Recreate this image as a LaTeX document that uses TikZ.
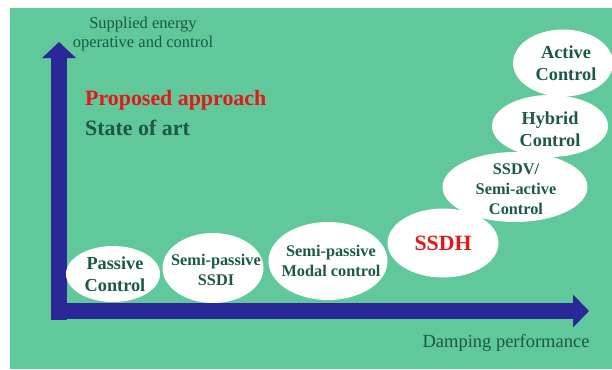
\documentclass[tikz,border=0pt]{standalone}
\usepackage{fontspec}
\setmainfont{Liberation Serif}
\newfontfamily\timesfont{Liberation Serif}
\definecolor{fieldGreen}{RGB}{96, 200, 154}
\definecolor{axisNavy}{RGB}{42, 40, 150}
\definecolor{labelTeal}{RGB}{28, 88, 74}
\definecolor{proposedRed}{RGB}{228, 24, 24}
\usetikzlibrary{arrows.meta,positioning,shapes}

\begin{document}
\begin{tikzpicture}[x=1pt, y=-1pt,
    blob/.style={ellipse, fill=white, inner sep=0pt},
    bigtext/.style={font=\timesfont\fontsize{18.3}{22}\selectfont\bfseries, text=labelTeal, align=center, inner sep=0pt},
    smalltext/.style={font=\timesfont\fontsize{16.3}{20}\selectfont\bfseries, text=labelTeal, align=center, inner sep=0pt},
    axistext/.style={font=\timesfont\fontsize{16.5}{19}\selectfont, text=labelTeal, align=center, inner sep=0pt},
    axisarrow/.style={axisNavy, line width=16pt, line cap=butt}]
    \useasboundingbox (0,0) rectangle (612,369);
    \fill[fieldGreen] (10,8) rectangle (612,369);

    % axes
    \coordinate (origin) at (59,320);
    \coordinate (ytop) at (59,42);
    \coordinate (xstart) at (51,311);
    \coordinate (xend) at (589,311);
    \draw[axisarrow, -{Triangle[length=16pt, width=33pt]}] (origin) -- (ytop);
    \draw[axisarrow, -{Triangle[length=16pt, width=32pt]}] (xstart) -- (xend);

    \node[axistext] (ylabel) at (143,34) {Supplied energy\\operative and control};
    \node[axistext, font=\timesfont\fontsize{18.5}{21}\selectfont] (xlabel) at (506,343) {Damping performance};

    % legend
    \node[bigtext, font=\timesfont\fontsize{21.9}{26}\selectfont\bfseries, text=proposedRed, anchor=base west] (proposed) at (85,105) {Proposed approach};
    \node[bigtext, font=\timesfont\fontsize{21.9}{26}\selectfont\bfseries, anchor=base west] (stateofart) at (85,135) {State of art};

    % ellipses
    \node[blob, minimum width=94pt, minimum height=56pt] (passive) at (113,274) {};
    \node[blob, minimum width=101pt, minimum height=70pt] (ssdi) at (213,268) {};
    \node[blob, minimum width=119pt, minimum height=78pt] (modal) at (328,261) {};
    \node[blob, minimum width=111pt, minimum height=69pt] (ssdh) at (443,243) {};
    \node[blob, minimum width=145pt, minimum height=70pt] (ssdv) at (515,187) {};
    \node[blob, minimum width=116pt, minimum height=62pt] (hybrid) at (550,126) {};
    \node[blob, minimum width=100pt, minimum height=67pt] (active) at (563,63) {};

    \node[bigtext] at ([xshift=2pt]passive) {Passive\\Control};
    \node[smalltext] at ([xshift=3pt, yshift=-2pt]ssdi) {Semi-passive\\SSDI};
    \node[smalltext] at ([xshift=3pt]modal) {Semi-passive\\Modal control};
    \node[bigtext, font=\timesfont\fontsize{21.8}{26}\selectfont\bfseries, text=proposedRed] at (ssdh) {SSDH};
    \node[smalltext] at ([xshift=1pt, yshift=-2pt]ssdv) {SSDV/\\Semi-active\\Control};
    \node[bigtext] at ([yshift=-3pt]hybrid) {Hybrid\\Control};
    \node[bigtext] at ([xshift=3pt]active) {Active\\Control};
\end{tikzpicture}
\end{document}
